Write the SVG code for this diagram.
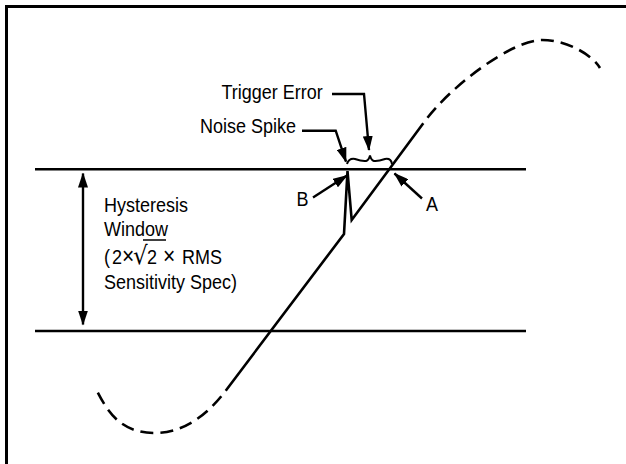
<svg xmlns="http://www.w3.org/2000/svg" width="626" height="464" viewBox="0 0 626 464">
<style>
.ln{fill:none;stroke:#000;stroke-width:2.6;}
.dash{fill:none;stroke:#000;stroke-width:2.6;stroke-dasharray:13 7;stroke-dashoffset:13;}
.ar{fill:none;stroke:#000;stroke-width:2.4;marker-end:url(#ah);}
text{font-family:"Liberation Sans",Arial,sans-serif;font-size:18px;fill:#000;}
</style>
<defs>
<marker id="ah" markerUnits="userSpaceOnUse" viewBox="0 0 15 10" refX="14" refY="5" markerWidth="15" markerHeight="10" orient="auto-start-reverse">
<path d="M0,0 L15,5 L0,10 z" fill="#000"/>
</marker>
</defs>
<rect x="6.5" y="6.5" width="640" height="480" fill="#fff" stroke="#000" stroke-width="3"/>
<g id="window-lines">
<line class="ln" x1="35" y1="169.3" x2="526" y2="169.3"/>
<line class="ln" x1="35" y1="331" x2="526" y2="331"/>
</g>
<g id="signal">
<path class="ln" d="M225.7,390.7 L344,234 L347.5,171 L351.7,220 L423.3,123.3" stroke-linejoin="miter" stroke-miterlimit="10"/>
<path class="dash" d="M423.3,123.3 C449.5,86.5 512,40 542,40 C567,40 592.5,55 600,68"/>
<path class="dash" d="M225.7,390.7 C204.7,418.7 180,433 155,433 C120,433 107.25,411.25 96,389"/>
</g>
<g id="hysteresis-label">
<line class="ar" x1="83" y1="250" x2="83" y2="173.5"/>
<line class="ar" x1="83" y1="250" x2="83" y2="324.5"/>
<text transform="translate(104,212) scale(1,1.1)">Hysteresis</text>
<text transform="translate(104,235.5) scale(1,1.1)">Window</text>
<text transform="translate(0,264) scale(1,1.1)"><tspan x="104">(</tspan><tspan x="112">2</tspan><tspan x="122" style="font-size:21px">×</tspan><tspan x="133" style="font-family:'DejaVu Sans';font-size:23px">√</tspan><tspan x="147">2</tspan><tspan x="163" style="font-size:21px">×</tspan><tspan x="182">RMS</tspan></text>
<line x1="143" y1="240" x2="166" y2="240" stroke="#000" stroke-width="1.5"/>
<text transform="translate(104,289) scale(1,1.1)">Sensitivity Spec)</text>
</g>
<g id="trigger-error">
<text transform="translate(221.5,99) scale(1,1.1)">Trigger Error</text>
<path class="ar" d="M332,94 L364,94 L369,150"/>
<path d="M347,164 Q349,158 355,159 Q362,161.5 366,161 Q369,160 370,155.5 Q371,160 374,161 Q378,161.5 385,159 Q391,158 392,164" fill="none" stroke="#000" stroke-width="2"/>
</g>
<g id="noise-spike">
<text transform="translate(200,133.3) scale(1,1.1)">Noise Spike</text>
<path class="ar" d="M302,130.7 L335.7,130.7 L346,161.7"/>
</g>
<g id="point-b">
<text transform="translate(296.5,206) scale(1,1.1)">B</text>
<line class="ar" x1="313" y1="197.5" x2="347" y2="175.5"/>
</g>
<g id="point-a">
<text transform="translate(426,210.7) scale(1,1.1)">A</text>
<line class="ar" x1="422" y1="198.5" x2="394.5" y2="173.5"/>
</g>
</svg>
